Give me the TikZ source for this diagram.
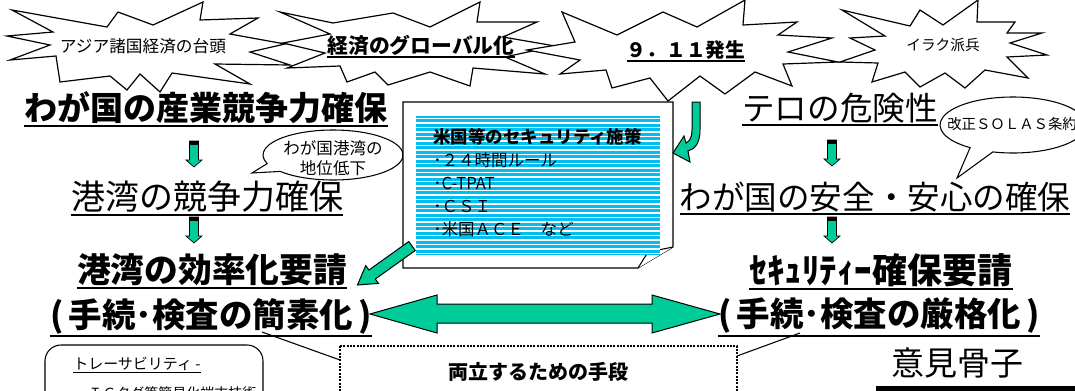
\documentclass[tikz,border=0pt]{standalone}
\usepackage{fontspec}
\setmainfont{Noto Sans CJK JP}
\definecolor{agreen}{HTML}{00CC99}
\definecolor{sblue}{RGB}{0,190,240}
\tikzset{
  burst/.style={draw=black, fill=white, line width=0.9pt, line join=miter},
  txt/.style={inner xsep=0pt, inner ysep=1.2pt, anchor=center},
  ul/.style={line width=1.5pt},
  thinul/.style={line width=0.8pt},
  callout/.style={draw=black, fill=white, line width=0.8pt},
  blockarrow/.style={fill=agreen, draw=black, line width=0.75pt, line join=miter},
  notebox/.style={draw=black, fill=white, line width=0.8pt},
  dotbox/.style={draw=black, line width=1.5pt, densely dotted},
  link/.style={draw=black, line width=0.8pt},
  darrow/.pic={
    \filldraw[fill=agreen, draw=black, line width=0.5pt]
      (-4.5,0) -- (4.5,0) -- (4.5,19) -- (8,19) -- (0,26) -- (-8,19) -- (-4.5,19) -- cycle;
    \fill[black] (-4.5,0) rectangle (4.5,4);
  }
}
\newcommand{\fsz}[1]{\fontsize{#1}{#1}\selectfont}
\begin{document}
\begin{tikzpicture}[x=0.75pt,y=-0.75pt]
\useasboundingbox (0,0) rectangle (1075,390);
\clip (0,0) rectangle (1075,390);
\fill[white] (0,0) rectangle (1075,390);

% ---------- bursts ----------
\draw[burst] (12,10) -- (107,27) -- (118,12) -- (153,25) -- (203,2) -- (200,20) -- (258,18) -- (230,34) -- (285,44) -- (250,52) -- (290,65) -- (215,64) -- (250,84) -- (172,73) -- (160,92) -- (140,74) -- (127,90) -- (110,76) -- (60,82) -- (56,56) -- (10,60) -- (50,45) -- (7,36) -- (53,32) -- cycle;
\draw[burst] (280,12) -- (333,23) -- (393,13) -- (430,27) -- (480,2) -- (477,22) -- (537,22) -- (503,37) -- (555,46) -- (505,57) -- (545,74) -- (473,68) -- (470,86) -- (430,72) -- (388,85) -- (375,72) -- (347,82) -- (340,66) -- (287,68) -- (325,53) -- (283,43) -- (330,34) -- cycle;
\draw[burst] (562,12) -- (617,35) -- (663,12) -- (697,27) -- (745,0) -- (743,25) -- (797,22) -- (778,35) -- (832,38) -- (788,52) -- (838,62) -- (783,64) -- (792,86) -- (755,72) -- (725,94) -- (700,76) -- (668,101) -- (650,78) -- (612,88) -- (606,70) -- (560,74) -- (580,60) -- (527,50) -- (575,42) -- cycle;
\draw[burst] (842,10) -- (910,26) -- (920,10) -- (943,25) -- (978,0) -- (977,22) -- (1015,22) -- (1007,33) -- (1042,33) -- (1010,43) -- (1047,55) -- (1007,57) -- (1028,78) -- (985,70) -- (965,88) -- (945,73) -- (920,87) -- (905,72) -- (872,82) -- (878,63) -- (840,62) -- (875,50) -- (850,38) -- (885,36) -- cycle;

\node[txt] (n1) at (143,46) {\fsz{12.5pt}アジア諸国経済の台頭};
\node[txt] (n2) at (421,45) {\fsz{15.6pt}\bfseries 経済のグローバル化};
\node[txt] (n3) at (686,50) {\fsz{14.8pt}\bfseries ９．１１発生};
\node[txt] (n4) at (943,45) {\fsz{11pt}イラク派兵};
\draw[ul] (n2.south west) -- (n2.south east);
\draw[ul] (n3.south west) -- (n3.south east);

% ---------- main headings ----------
\node[txt] (n5) at (206,108) {\fsz{24.75pt}\bfseries わが国の産業競争力確保};
\node[txt] (n6) at (207,197) {\fsz{25.5pt}港湾の競争力確保};
\node[txt] (n7) at (212,270) {\fsz{25.3pt}\bfseries 港湾の効率化要請};
\node[txt] (n8) at (211,316) {\fsz{25.1pt}\bfseries (\hspace{0.15em}手続･検査の簡素化\hspace{0.15em})};
\node[txt] (n9) at (840,108) {\fsz{24.4pt}テロの危険性};
\node[txt] (n10) at (875,197) {\fsz{24.4pt}わが国の安全・安心の確保};
\node[txt] (n11) at (881,270) {\fsz{26.25pt}\bfseries ｾｷｭﾘﾃｨｰ確保要請};
\node[txt] (n12) at (879,316) {\fsz{25.1pt}\bfseries (\hspace{0.15em}手続･検査の厳格化\hspace{0.15em})};
\foreach \n in {n5,n6,n7,n8,n9,n10,n11,n12}{
  \draw[ul] (\n.south west) -- (\n.south east);
}

% ---------- callouts ----------
\draw[callout] (333,155) ++(139:70 and 25) arc[start angle=139, end angle=-200, x radius=70, y radius=25] -- (252,173) -- cycle;
\node[txt] (c1a) at (333,148) {\fsz{12.4pt}わが国港湾の};
\node[txt] (c1b) at (333,168) {\fsz{12.4pt}地位低下};
\draw[callout] (1013,125) ++(106:73 and 28) arc[start angle=106, end angle=-234, x radius=73, y radius=28] -- (957,178) -- cycle;
\node[txt, anchor=west] (c2) at (947,124) {\fsz{10.8pt}改正ＳＯＬＡＳ条約};

% ---------- small down arrows ----------
\pic at (194,141) {darrow};
\pic at (194,217) {darrow};
\pic at (832,140) {darrow};
\pic at (832,217) {darrow};

% ---------- note box ----------
\draw[notebox] (403,102) -- (673,102) -- (673,247) -- (638,268) -- (403,268) -- cycle;
\draw[notebox] (638,268) -- (648,252) -- (673,247);
\fill[sblue] (416,116) rectangle (660,255);
\foreach \yy in {118.5,123,...,254}{
  \draw[white, line width=0.9pt] (416,\yy) -- (660,\yy);
}
\node[txt, anchor=west] (t0) at (433,137) {\fsz{13.1pt}\bfseries 米国等のセキュリティ施策};
\node[txt, anchor=west] (t1) at (433,160) {\fsz{12.4pt}･２４時間ルール};
\node[txt, anchor=west] (t2) at (433,183) {\fsz{12.4pt}･C-TPAT};
\node[txt, anchor=west] (t3) at (433,206) {\fsz{12.4pt}･ＣＳＩ};
\node[txt, anchor=west] (t4) at (433,229) {\fsz{12.4pt}･米国ＡＣＥ　など};

% ---------- green arrows ----------
\draw[blockarrow] (408.8,241.5) -- (368.9,270.0) -- (365.7,265.6) -- (357.5,285) -- (378.5,283.4) -- (375.3,279.0) -- (415.2,250.5) -- cycle;
\draw[blockarrow] (692,102) -- (700,102) -- (700,130) .. controls (700,143) and (695,149) .. (688,151) -- (690,162) -- (673,153) -- (684,136) -- (686,143) .. controls (690,141) and (692,137) .. (692,130) -- cycle;
\draw[blockarrow] (370,314) -- (437,295) -- (437,304) -- (652,304) -- (652,295) -- (720,314) -- (652,333) -- (652,323) -- (437,323) -- (437,333) -- cycle;

% ---------- bottom ----------
\draw[line width=0.8pt, rounded corners=12pt] (45,345) rectangle (263,450);
\node[txt, anchor=west] (b1) at (73,364) {\fsz{11.25pt}トレーサビリティ -};
\draw[thinul] (b1.south west) -- (b1.south east);
\node[txt, anchor=west] (b2) at (88,393) {\fsz{10.5pt}ＩＣタグ等簡易化端末技術};

\draw[dotbox] (340,346) rectangle (737,450);
\node[txt] (m1) at (538,372) {\fsz{15pt}\bfseries 両立するための手段};
\coordinate (l1) at (262,332);
\coordinate (ml) at (340,360);
\coordinate (mr) at (737,356);
\coordinate (r1) at (800,333);
\draw[link] (l1) -- (ml);
\draw[link] (mr) -- (r1);

\node[txt] (k1) at (957,363) {\fsz{24.75pt}意見骨子};
\draw[line width=3.75pt] (878,388) rectangle (1120,470);
\end{tikzpicture}
\end{document}
